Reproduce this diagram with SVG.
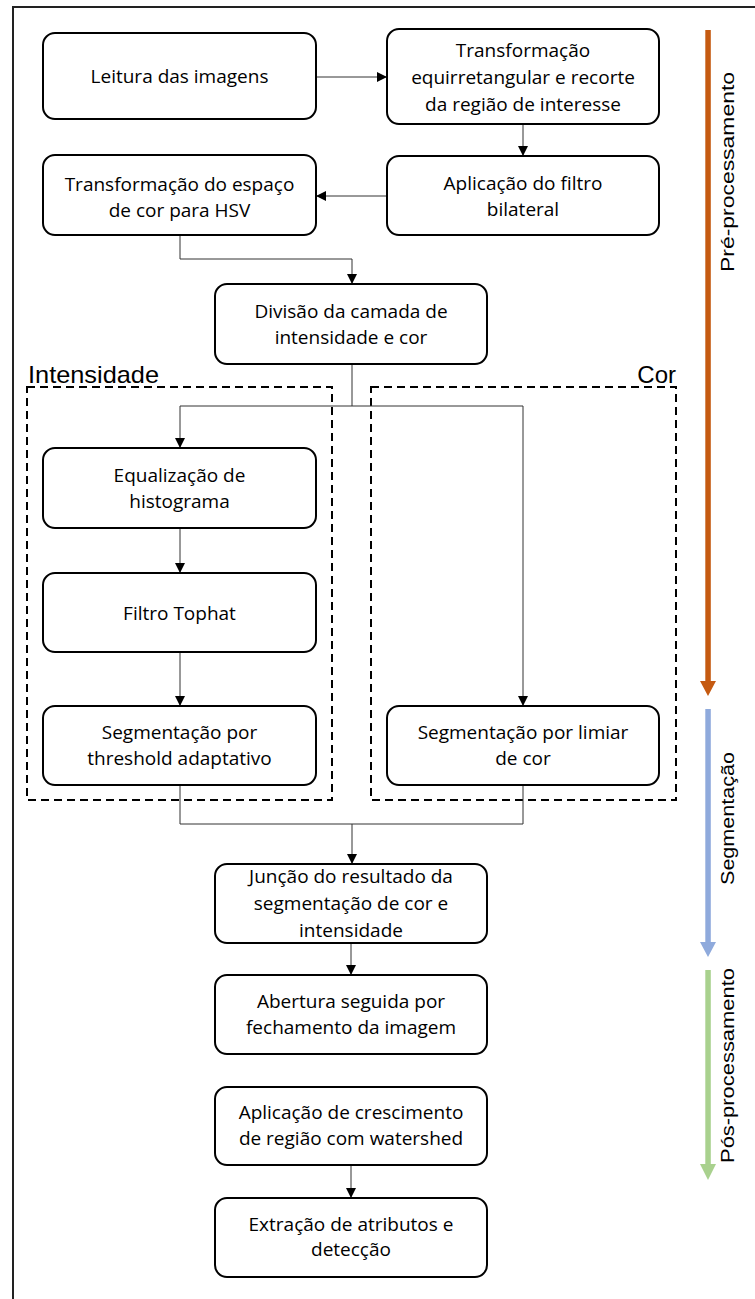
<svg xmlns="http://www.w3.org/2000/svg" width="755" height="1299" viewBox="0 0 755 1299">
<defs>
<style>
.box{fill:#fff;stroke:#000;stroke-width:2}
.t{font-family:"Open Sans","Liberation Sans",sans-serif;font-size:19px;fill:#000;text-anchor:middle}
.c{fill:none;stroke:#333;stroke-width:1}
.ca{fill:none;stroke:#333;stroke-width:1;marker-end:url(#ah)}
.grp{fill:none;stroke:#000;stroke-width:2;stroke-dasharray:8 5}
.lbl{font-family:"Liberation Sans",Arial,sans-serif;fill:#000}
</style>
<marker id="ah" viewBox="0 0 10 10" refX="10" refY="5" markerWidth="10" markerHeight="10" markerUnits="userSpaceOnUse" orient="auto">
<path d="M0,0 L10,5 L0,10 z" fill="#000"/>
</marker>
</defs>
<rect width="755" height="1299" fill="#fff"/>
<path d="M13,1299 V7 H755" fill="none" stroke="#222" stroke-width="2"/>

<g id="groups">
<rect class="grp" x="27" y="387" width="305" height="413"/>
<rect class="grp" x="371" y="387" width="305" height="413"/>
<text class="lbl" x="28" y="383" font-size="24" textLength="131" lengthAdjust="spacingAndGlyphs">Intensidade</text>
<text class="lbl" x="676" y="383" font-size="24" text-anchor="end">Cor</text>
</g>

<g id="connectors">
<path class="ca" d="M316,77 H387"/>
<path class="ca" d="M523,124 V156"/>
<path class="ca" d="M387,196 H316"/>
<path class="ca" d="M180,235 V259 H352 V284"/>
<path class="c" d="M352,364 V406"/>
<path class="c" d="M180,406 H523"/>
<path class="ca" d="M180,406 V448"/>
<path class="ca" d="M523,406 V706"/>
<path class="ca" d="M180,528 V573"/>
<path class="ca" d="M180,652 V706"/>
<path class="c" d="M180,785 V824 H523 V785"/>
<path class="ca" d="M352,824 V864"/>
<path class="ca" d="M351,943 V975"/>
<path class="ca" d="M351,1165 V1198"/>
</g>

<g id="n1"><rect class="box" x="43" y="33" width="273" height="86" rx="12"/>
<text class="t" x="179.5" y="83">Leitura das imagens</text></g>

<g id="n2"><rect class="box" x="387" y="29" width="272" height="95" rx="12"/>
<text class="t" x="523" y="57">Transformação</text>
<text class="t" x="523" y="84">equirretangular e recorte</text>
<text class="t" x="523" y="111">da região de interesse</text></g>

<g id="n3"><rect class="box" x="387" y="156" width="272" height="79" rx="12"/>
<text class="t" x="523" y="190">Aplicação do filtro</text>
<text class="t" x="523" y="216">bilateral</text></g>

<g id="n4"><rect class="box" x="43" y="155" width="273" height="80" rx="12"/>
<text class="t" x="179.5" y="191">Transformação do espaço</text>
<text class="t" x="179.5" y="217">de cor para HSV</text></g>

<g id="n5"><rect class="box" x="215" y="284" width="272" height="80" rx="12"/>
<text class="t" x="351" y="318">Divisão da camada de</text>
<text class="t" x="351" y="344">intensidade e cor</text></g>

<g id="n6"><rect class="box" x="43" y="448" width="273" height="80" rx="12"/>
<text class="t" x="179.5" y="482">Equalização de</text>
<text class="t" x="179.5" y="508">histograma</text></g>

<g id="n7"><rect class="box" x="43" y="573" width="273" height="79" rx="12"/>
<text class="t" x="179.5" y="620">Filtro Tophat</text></g>

<g id="n8"><rect class="box" x="43" y="706" width="273" height="79" rx="12"/>
<text class="t" x="179.5" y="739">Segmentação por</text>
<text class="t" x="179.5" y="765">threshold adaptativo</text></g>

<g id="n9"><rect class="box" x="387" y="706" width="272" height="79" rx="12"/>
<text class="t" x="523" y="739">Segmentação por limiar</text>
<text class="t" x="523" y="765">de cor</text></g>

<g id="n10"><rect class="box" x="215" y="864" width="272" height="79" rx="12"/>
<text class="t" x="351" y="883">Junção do resultado da</text>
<text class="t" x="351" y="910">segmentação de cor e</text>
<text class="t" x="351" y="937">intensidade</text></g>

<g id="n11"><rect class="box" x="215" y="975" width="272" height="79" rx="12"/>
<text class="t" x="351" y="1008">Abertura seguida por</text>
<text class="t" x="351" y="1034">fechamento da imagem</text></g>

<g id="n12"><rect class="box" x="215" y="1087" width="272" height="78" rx="12"/>
<text class="t" x="351" y="1119">Aplicação de crescimento</text>
<text class="t" x="351" y="1145">de região com watershed</text></g>

<g id="n13"><rect class="box" x="215" y="1198" width="272" height="79" rx="12"/>
<text class="t" x="351" y="1231">Extração de atributos e</text>
<text class="t" x="351" y="1256">detecção</text></g>

<g id="phase-pre">
<rect x="705.3" y="30" width="5.5" height="652" fill="#C55A11"/>
<polygon points="700,681 716,681 708,696" fill="#C55A11"/>
<text class="lbl" font-size="19" text-anchor="middle" transform="translate(734,172) rotate(-90)" textLength="200" lengthAdjust="spacingAndGlyphs">Pré-processamento</text>
</g>
<g id="phase-seg">
<rect x="705.3" y="709" width="5.5" height="234" fill="#8FAADC"/>
<polygon points="700,942 716,942 708,957" fill="#8FAADC"/>
<text class="lbl" font-size="19" text-anchor="middle" transform="translate(734,818.5) rotate(-90)" textLength="133" lengthAdjust="spacingAndGlyphs">Segmentação</text>
</g>
<g id="phase-pos">
<rect x="705.3" y="970" width="5.5" height="195" fill="#A9D18E"/>
<polygon points="700,1164 716,1164 708,1180" fill="#A9D18E"/>
<text class="lbl" font-size="19" text-anchor="middle" transform="translate(734,1065.5) rotate(-90)" textLength="195" lengthAdjust="spacingAndGlyphs">Pós-processamento</text>
</g>
</svg>
